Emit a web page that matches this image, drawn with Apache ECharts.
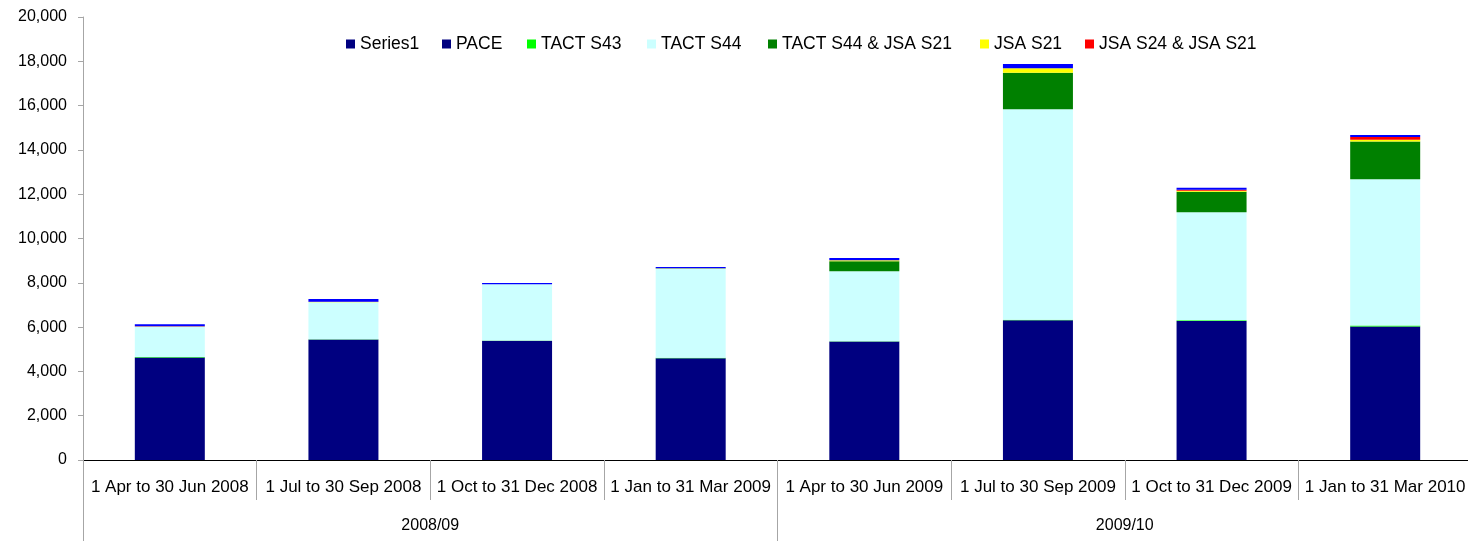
<!DOCTYPE html>
<html>
<head>
<meta charset="utf-8">
<script src="https://cdn.jsdelivr.net/npm/echarts@6/dist/echarts.min.js"></script>
<style>
    html, body { margin: 0; padding: 0; background: #fff; overflow: hidden; }
    #chart { width: 1472px; height: 541px; }
</style>
</head>
<body>
<div id="chart"></div>
<script>
const quarters = ["1 Apr to 30 Jun 2008", "1 Jul to 30 Sep 2008", "1 Oct to 31 Dec 2008", "1 Jan to 31 Mar 2009",
    "1 Apr to 30 Jun 2009", "1 Jul to 30 Sep 2009", "1 Oct to 31 Dec 2009", "1 Jan to 31 Mar 2010"];
const years = ["2008/09", "2009/10"];

const pace = [4630, 5440, 5380, 4590, 5350, 6310, 6270, 6030];
const tactS43 = [20, 15, 10, 30, 15, 20, 40, 40];
const tactS44 = [1368, 1665, 2542, 4016, 3155, 9503, 4873, 6603];
const tactS44Jsa = [0, 0, 0, 10, 450, 1650, 930, 1710];
const jsaS21 = [10, 15, 0, 15, 50, 200, 45, 75];
const jsaS24 = [10, 15, 0, 0, 0, 0, 45, 120];
const series1 = [90, 120, 55, 55, 100, 190, 90, 90];

const legendNames = ["Series1", "PACE", "TACT S43", "TACT S44", "TACT S44 & JSA S21", "JSA S21", "JSA S24 & JSA S21"];
const legendX = [346, 442, 527, 647, 768, 980, 1085];

function bar(name, data, color) {
    return {
        name: name,
        type: "bar",
        stack: "total",
        barWidth: 70,
        data: data,
        itemStyle: { color: color },
        emphasis: { disabled: true }
    };
}

const font = "Liberation Sans, Arial, sans-serif";
const gray = "#a6a6a6";

// the plot runs a few pixels past the right edge of the window, as in the original
let chart = echarts.init(document.getElementById("chart"));
chart.setOption({
    animation: false,
    textStyle: { fontFamily: font },
    legend: legendNames.map((n, i) => ({
        data: [n === "Series1" ? { name: n, itemStyle: { color: "#000080" } } : n],
        left: legendX[i],
        top: 35,
        icon: "rect",
        itemWidth: 9,
        itemHeight: 9,
        padding: 0,
        selectedMode: false,
        textStyle: { fontSize: 17.5, color: "#000", fontFamily: font }
    })),
    grid: { left: 83, right: 0, top: 17, bottom: 81 },
    xAxis: [{
        type: "category",
        data: quarters,
        axisLine: { lineStyle: { color: "#000", width: 1 } },
        axisTick: { show: true, length: 40, lineStyle: { color: gray } },
        axisLabel: { margin: 19, fontSize: 17, color: "#000", fontFamily: font, interval: 0 }
    }, {
        type: "category",
        data: years,
        position: "bottom",
        offset: 40,
        axisLine: { show: false },
        axisTick: { show: true, length: 42, lineStyle: { color: gray } },
        axisLabel: { margin: 18, fontSize: 16, color: "#000", fontFamily: font }
    }],
    yAxis: {
        type: "value",
        min: 0,
        max: 20000,
        interval: 2000,
        splitLine: { show: false },
        axisLine: { show: true, lineStyle: { color: gray } },
        axisTick: { show: true, length: 5, lineStyle: { color: gray } },
        axisLabel: {
            margin: 16, fontSize: 16, color: "#000", fontFamily: font,
            formatter: v => v.toLocaleString("en-US")
        }
    },
    series: [
        bar("PACE", pace, "#000080"),
        bar("TACT S43", tactS43, "#00ff00"),
        bar("TACT S44", tactS44, "#ccffff"),
        bar("TACT S44 & JSA S21", tactS44Jsa, "#008000"),
        bar("JSA S21", jsaS21, "#ffff00"),
        bar("JSA S24 & JSA S21", jsaS24, "#ff0000"),
        bar("Series1", series1, "#0000ff")
    ]
});
</script>
</body>
</html>
